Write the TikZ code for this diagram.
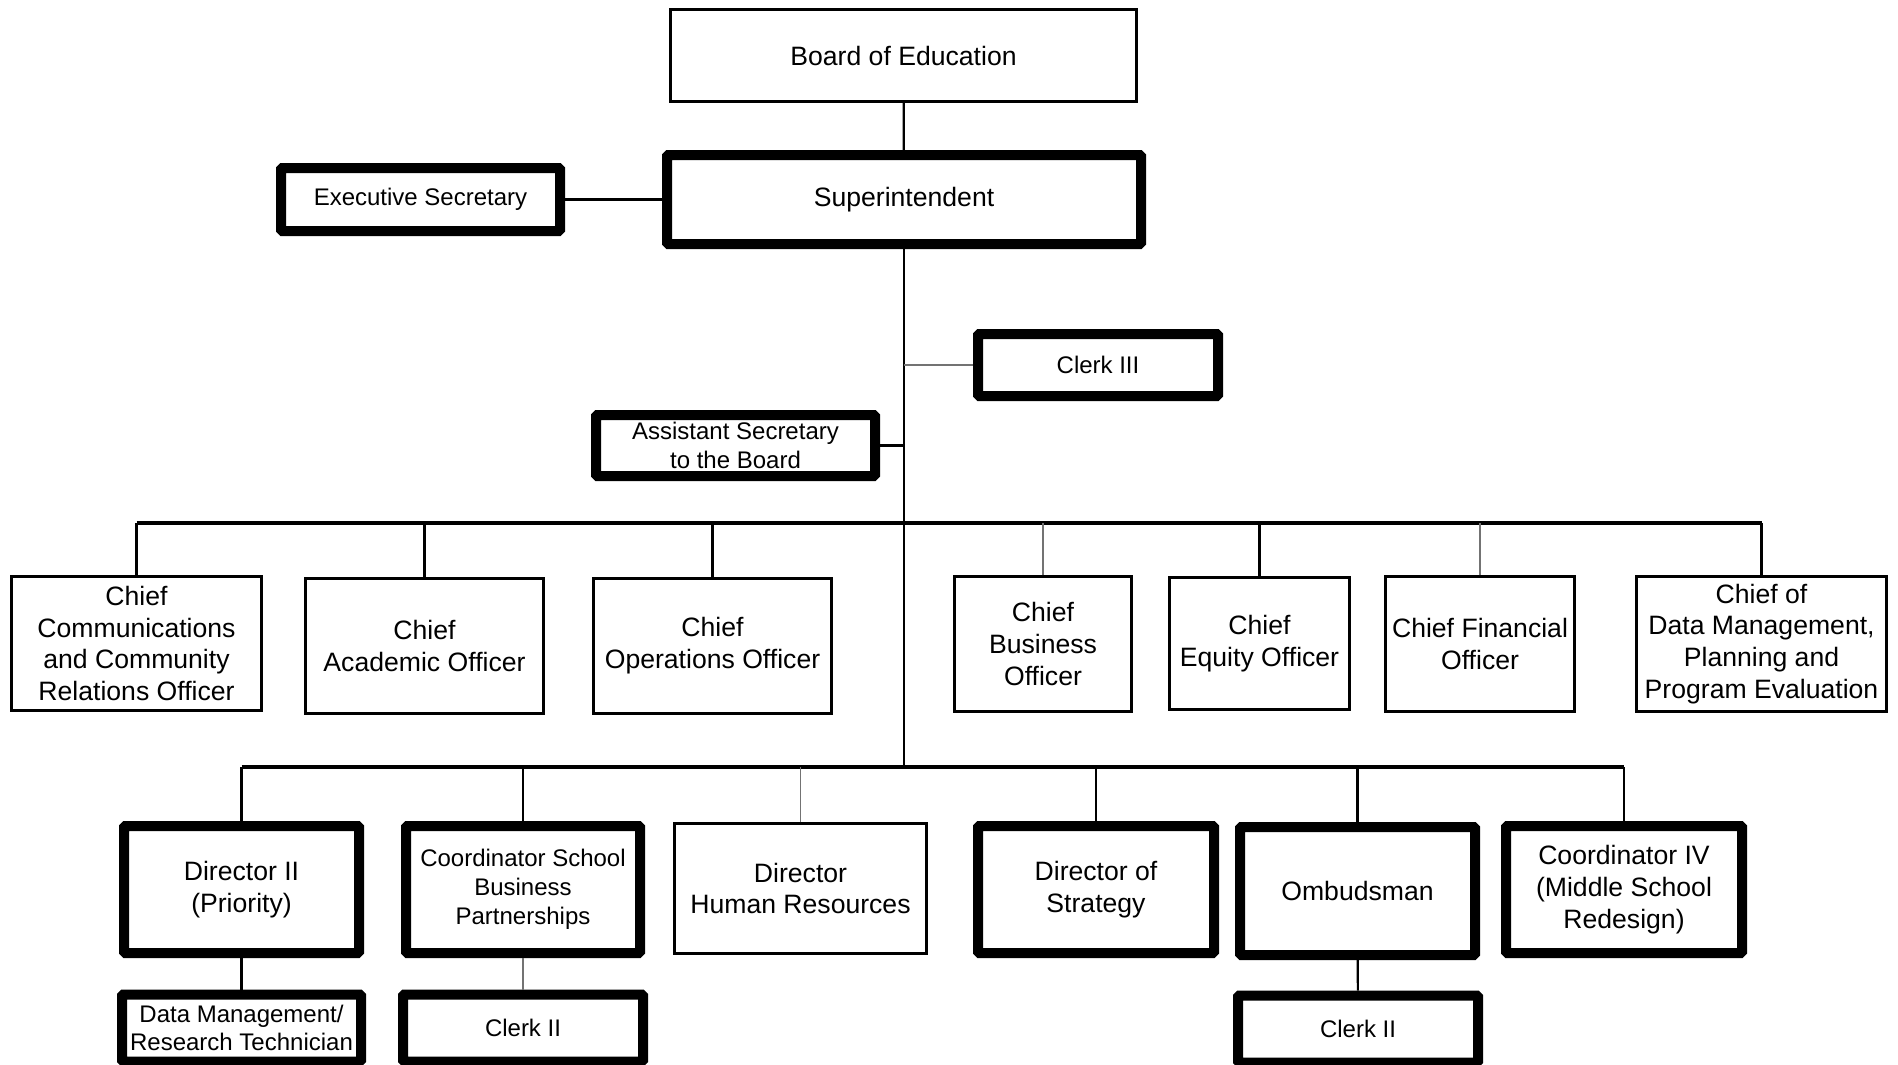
\documentclass[tikz,border=0pt]{standalone}
\usepackage{fontspec}
\setmainfont{Liberation Sans}
\newcommand{\bigtext}{\fontsize{26.6}{31.8}\selectfont}
\newcommand{\smalltext}{\fontsize{24}{28.8}\selectfont}
\tikzset{
  thinbox/.style={shape=rectangle, draw, line width=2.5pt, fill=white, align=center, inner sep=2pt, font=\bigtext},
  thickbox/.style={shape=rectangle, draw, line width=10pt, rounded corners=1.5pt, fill=white, align=center, inner sep=2pt, font=\bigtext},
  small/.style={font=\smalltext},
  link/.style={draw, line width=2.2pt},
  busline/.style={draw, line width=3.5pt},
  faint/.style={draw, line width=1.3pt, black!55}
}
\begin{document}
\begin{tikzpicture}[x=1pt, y=-1pt]
			\clip (0, 0) rectangle (1898, 1065);
			\node[thinbox, minimum width=466pt, minimum height=92pt](board) at (903.5, 55.5){Board of Education};
			\node[thickbox, minimum width=474pt, minimum height=89pt](sup) at (904, 199.5){Superintendent};
			\node[thickbox, small, minimum width=279pt, minimum height=63pt](execsec) at (420.5, 199.5){Executive Secretary};
			\node[thickbox, small, minimum width=240pt, minimum height=62pt](clerkIII) at (1098, 365){Clerk III};
			\node[thickbox, small, minimum width=279pt, minimum height=61pt](asstsec) at (735.5, 445.5){Assistant Secretary\\to the Board};
			\coordinate (bus1) at (904, 523);
			\coordinate (bus2) at (904, 767);
			\node[thinbox, minimum width=250pt, minimum height=134pt](cco) at (136.5, 643.5){Chief\\Communications\\and Community\\Relations Officer};
			\node[thinbox, minimum width=238pt, minimum height=135pt](cao) at (424.5, 646){Chief\\Academic Officer};
			\node[thinbox, minimum width=238pt, minimum height=135pt](coo) at (712.5, 646){Chief\\Operations Officer};
			\node[thinbox, minimum width=177pt, minimum height=135pt](cbo) at (1043, 644){Chief\\Business\\Officer};
			\node[thinbox, minimum width=180pt, minimum height=132pt](ceo) at (1259.5, 643.5){Chief\\Equity Officer};
			\node[thinbox, minimum width=189pt, minimum height=135pt](cfo) at (1480, 644){Chief Financial\\Officer};
			\node[thinbox, minimum width=250pt, minimum height=135pt](cdm) at (1761.5, 644){Chief of\\Data Management,\\Planning and\\Program Evaluation};
			\node[thickbox, minimum width=235pt, minimum height=127pt](dir2) at (241.5, 889.5){Director II\\(Priority)};
			\node[thickbox, small, minimum width=234pt, minimum height=127pt](csbp) at (523, 889.5){Coordinator School\\Business\\Partnerships};
			\node[thinbox, minimum width=252pt, minimum height=130pt](dhr) at (800.5, 888.5){Director\\Human Resources};
			\node[thickbox, minimum width=236pt, minimum height=127pt](dos) at (1096, 889.5){Director of\\Strategy};
			\node[thickbox, minimum width=235pt, minimum height=128pt](omb) at (1357.5, 891){Ombudsman};
			\node[thickbox, minimum width=236pt, minimum height=127pt](c4) at (1624, 889.5){Coordinator IV\\(Middle School\\Redesign)};
			\node[thickbox, small, minimum width=239pt, minimum height=67pt](dmrt) at (241.5, 1028){Data Management/\\Research Technician};
			\node[thickbox, small, minimum width=240pt, minimum height=67pt](clerk2a) at (523, 1028){Clerk II};
			\node[thickbox, small, minimum width=240pt, minimum height=67pt](clerk2b) at (1358, 1029){Clerk II};
			\draw[link] (board) -- (sup);
			\draw[busline] (execsec) -- (sup);
			\draw[link] (sup) -- (bus2);
			\draw[faint] (clerkIII.west) -- (clerkIII.west -| bus1);
			\draw[busline] (asstsec.east) -- (asstsec.east -| bus1);
			\draw[busline] (cco.north |- bus1) -- (cdm.north |- bus1);
			\draw[link] (cco) -- (cco.north |- bus1);
			\draw[link] (cao) -- (cao.north |- bus1);
			\draw[link] (coo) -- (coo.north |- bus1);
			\draw[faint] (cbo) -- (cbo.north |- bus1);
			\draw[link] (ceo) -- (ceo.north |- bus1);
			\draw[faint] (cfo) -- (cfo.north |- bus1);
			\draw[link] (cdm) -- (cdm.north |- bus1);
			\draw[busline] (dir2.north |- bus2) -- (c4.north |- bus2);
			\draw[link] (dir2) -- (dir2.north |- bus2);
			\draw[link] (csbp) -- (csbp.north |- bus2);
			\draw[faint] (dhr) -- (dhr.north |- bus2);
			\draw[link] (dos) -- (dos.north |- bus2);
			\draw[link] (omb) -- (omb.north |- bus2);
			\draw[link] (c4) -- (c4.north |- bus2);
			\draw[link] (dir2) -- (dmrt);
			\draw[faint] (csbp) -- (clerk2a);
			\draw[link] (omb) -- (clerk2b);
		\end{tikzpicture}
\end{document}
